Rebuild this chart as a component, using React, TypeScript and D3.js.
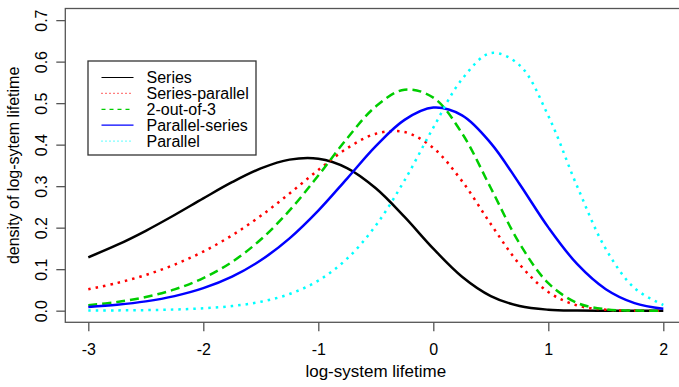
import * as d3 from 'd3';
import { useEffect, useRef } from 'react';

// log-lifetime grid (x) and density values
const xVals = [-3, -2.75, -2.5, -2.25, -2, -1.75, -1.5, -1.25, -1, -0.75, -0.5, -0.25, 0, 0.25, 0.5, 0.75, 1, 1.25, 1.5, 1.75, 2];

const seriesVals = [0.1286, 0.1583, 0.1925, 0.2305, 0.2705, 0.3095, 0.3427, 0.3639, 0.366, 0.3436, 0.2949, 0.2259, 0.1494, 0.0818, 0.0352, 0.0111, 0.0023, 0.0003, 0.0, 0.0, 0.0];
const seriesParallelVals = [0.0516, 0.0667, 0.0861, 0.111, 0.1424, 0.1815, 0.2285, 0.2823, 0.339, 0.3911, 0.4263, 0.4303, 0.392, 0.3121, 0.2087, 0.1117, 0.045, 0.0127, 0.0023, 0.0002, 0.0];
const twoOutOfThreeVals = [0.0131, 0.0209, 0.0329, 0.0512, 0.0784, 0.1175, 0.1714, 0.2415, 0.3255, 0.4148, 0.492, 0.5325, 0.5133, 0.4272, 0.2955, 0.1619, 0.0663, 0.0189, 0.0034, 0.0003, 0.0];
const parallelSeriesVals = [0.0089, 0.0142, 0.0224, 0.0351, 0.0542, 0.082, 0.1214, 0.1743, 0.2411, 0.3183, 0.3964, 0.4597, 0.4892, 0.4707, 0.4038, 0.3052, 0.2007, 0.1126, 0.0518, 0.0183, 0.0046];
const parallelVals = [0.0003, 0.0007, 0.0014, 0.0028, 0.0057, 0.0111, 0.0214, 0.0401, 0.0724, 0.1252, 0.2052, 0.3139, 0.441, 0.5577, 0.6205, 0.5916, 0.4694, 0.3001, 0.1487, 0.0543, 0.0137];

const xTicks = [-3, -2, -1, 0, 1, 2];
const yTicks = [0, 0.1, 0.2, 0.3, 0.4, 0.5, 0.6, 0.7];

const curves = [
  { name: 'Series', values: seriesVals, color: '#000000', dash: null, legendDash: null },
  { name: 'Series-parallel', values: seriesParallelVals, color: '#ff0000', dash: '2.5 5', legendDash: '1 3' },
  { name: '2-out-of-3', values: twoOutOfThreeVals, color: '#00cd00', dash: '9 5', legendDash: '4 4' },
  { name: 'Parallel-series', values: parallelSeriesVals, color: '#0000ff', dash: null, legendDash: null },
  { name: 'Parallel', values: parallelVals, color: '#00ffff', dash: '2.5 5', legendDash: '1 3' },
];

const FONT = "'Liberation Sans', Arial, sans-serif";

function DensityChart() {
  const ref = useRef<SVGSVGElement | null>(null);

  useEffect(() => {
    const svg = d3.select(ref.current);
    svg.selectAll('*').remove();

    const width = 679;
    const height = 387;

    // R-style 4% padding around the data range
    const x = d3.scaleLinear().domain([-3.2, 2.2]).range([65.3, 686.3]);
    const y = d3.scaleLinear().domain([-0.028, 0.728]).range([322.3, 8.5]);

    svg.append('rect').attr('width', width).attr('height', height).attr('fill', '#ffffff');

    const line = d3
      .line<number>()
      .x((_, i) => x(xVals[i]))
      .y((d) => y(d))
      .curve(d3.curveCatmullRom.alpha(0.5));

    const plot = svg.append('g');
    curves.forEach((c) => {
      plot
        .append('path')
        .datum(c.values)
        .attr('d', line)
        .attr('fill', 'none')
        .attr('stroke', c.color)
        .attr('stroke-width', 2.5)
        .attr('stroke-dasharray', c.dash)
        .attr('stroke-linecap', 'butt');
    });

    // box
    svg
      .append('rect')
      .attr('x', x.range()[0])
      .attr('y', y.range()[1])
      .attr('width', x.range()[1] - x.range()[0])
      .attr('height', y.range()[0] - y.range()[1])
      .attr('fill', 'none')
      .attr('stroke', '#555555')
      .attr('stroke-width', 1.3);

    const xAxis = svg
      .append('g')
      .attr('transform', `translate(0,${y.range()[0]})`)
      .call(d3.axisBottom(x).tickValues(xTicks).tickSize(9).tickPadding(12).tickFormat((d) => String(d)));
    xAxis.select('.domain').remove();
    xAxis.selectAll('line').attr('stroke', '#555555').attr('stroke-width', 1.3);
    xAxis
      .selectAll('text')
      .attr('font-family', FONT)
      .attr('font-size', 16)
      .attr('fill', '#000000')
      .attr('dy', null)
      .attr('y', 33);

    const yAxis = svg
      .append('g')
      .attr('transform', `translate(${x.range()[0]},0)`)
      .call(d3.axisLeft(y).tickValues(yTicks).tickSize(9).tickFormat(d3.format('.1f')));
    yAxis.select('.domain').remove();
    yAxis.selectAll('line').attr('stroke', '#555555').attr('stroke-width', 1.3);
    yAxis
      .selectAll('text')
      .attr('font-family', FONT)
      .attr('font-size', 16)
      .attr('fill', '#000000')
      .attr('x', null)
      .attr('dy', null)
      .attr('text-anchor', 'middle')
      .attr('transform', 'translate(-18.8,0) rotate(-90)');

    svg
      .append('text')
      .attr('x', (x.range()[0] + x.range()[1]) / 2)
      .attr('y', 377)
      .attr('text-anchor', 'middle')
      .attr('font-family', FONT)
      .attr('font-size', 17)
      .text('log-system lifetime');

    svg
      .append('text')
      .attr('transform', `translate(18.5,${(y.range()[0] + y.range()[1]) / 2}) rotate(-90)`)
      .attr('text-anchor', 'middle')
      .attr('font-family', FONT)
      .attr('font-size', 16)
      .text('density of log-sytem lifetime');

    // legend
    const legend = svg.append('g');
    legend
      .append('rect')
      .attr('x', 88)
      .attr('y', 61)
      .attr('width', 168)
      .attr('height', 94)
      .attr('fill', '#ffffff')
      .attr('stroke', '#333333')
      .attr('stroke-width', 1.3);

    curves.forEach((c, i) => {
      const rowY = 77.5 + i * 15.9;
      legend
        .append('line')
        .attr('x1', 101.5)
        .attr('x2', 133.5)
        .attr('y1', rowY)
        .attr('y2', rowY)
        .attr('stroke', c.color)
        .attr('stroke-width', 1.2)
        .attr('stroke-dasharray', c.legendDash);
      legend
        .append('text')
        .attr('x', 146.5)
        .attr('y', rowY + 5.5)
        .attr('font-family', FONT)
        .attr('font-size', 16)
        .attr('fill', '#000000')
        .text(c.name);
    });
  }, []);

  return <svg ref={ref} width={679} height={387} style={{ position: 'absolute', left: 0, top: 0 }} />;
}

export default function App() {
  return <DensityChart />;
}
